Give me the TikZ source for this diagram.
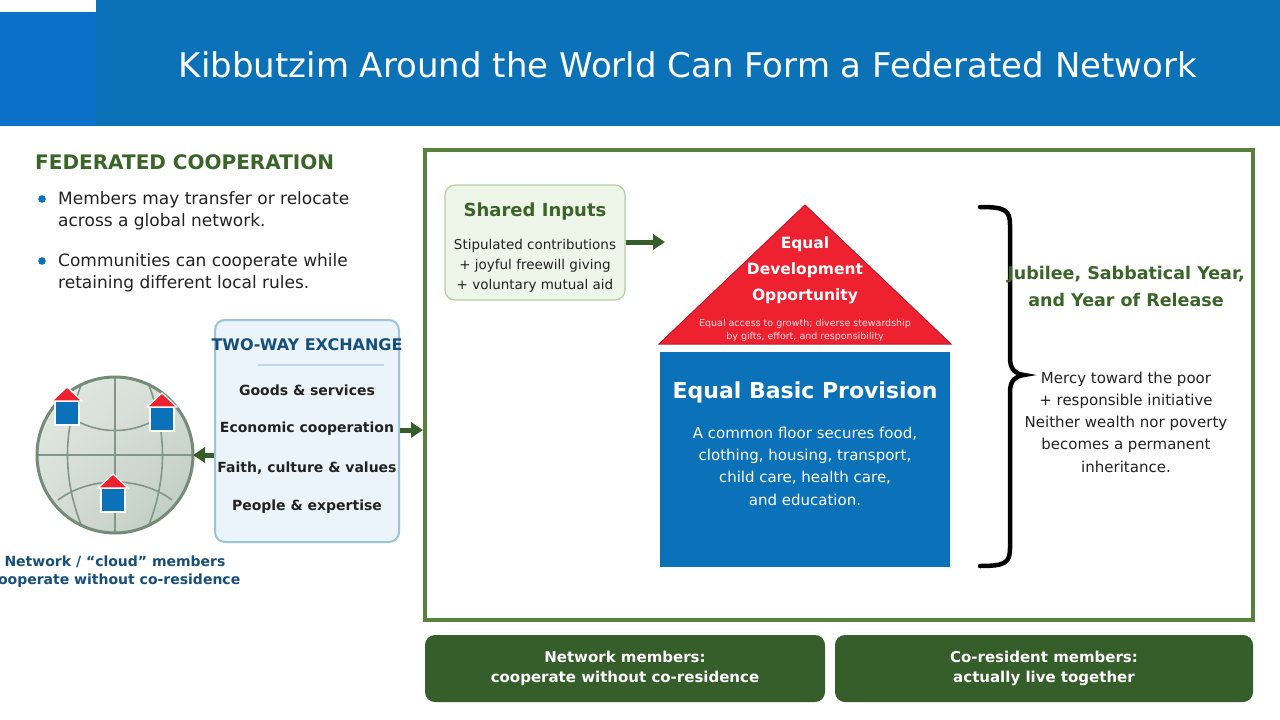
\documentclass[tikz,border=0pt]{standalone}
\usepackage{fontspec}
\setmainfont{DejaVu Sans}
\usetikzlibrary{calc,arrows.meta,shadings}
\definecolor{hdr}{HTML}{0B72B8}
\definecolor{hdrsq}{HTML}{0A70C8}
\definecolor{gr}{HTML}{3A6428}
\definecolor{frame}{HTML}{5A8040}
\definecolor{dgr}{HTML}{365E2A}
\definecolor{navy}{HTML}{174F7A}
\definecolor{txt}{HTML}{222222}
\definecolor{red1}{HTML}{EE2130}
\definecolor{blue1}{HTML}{0B72BA}
\definecolor{globe}{HTML}{748B78}
\definecolor{exbd}{HTML}{9CC3DC}
\definecolor{exfill}{HTML}{EBF4FB}
\definecolor{exsep}{HTML}{BED7E8}
\definecolor{sibd}{HTML}{B5CFA5}
\definecolor{sifill}{HTML}{EEF5E9}
\definecolor{glA}{HTML}{E4EAE5}
\definecolor{glB}{HTML}{BCC9BE}
\newcommand{\fs}[1]{\fontsize{#1}{#1}\selectfont}
\tikzset{
 x=1pt,y=-1pt,
 lbl/.style={inner sep=0pt,align=center},
 bul/.style={inner sep=0pt,anchor=west,text=txt,font=\fs{17}},
 item/.style={lbl,font=\bfseries\fs{14},text=txt},
 arr/.style={draw=dgr,line width=5pt,-{Triangle[length=12pt,width=15pt]}},
 house/.pic={\fill[blue1,draw=white,line width=1.5pt] (-12,-2) rectangle (12,22);
   \fill[red1,draw=white,line width=1.2pt] (-15,-2) -- (0,-16) -- (15,-2) -- cycle;},
}
\begin{document}
\begin{tikzpicture}
\useasboundingbox (0,0) rectangle (1280,720);
\fill[white] (0,0) rectangle (1280,720);
% header
\fill[hdr] (0,0) rectangle (1280,126);
\fill[hdrsq] (0,12) rectangle (96,126);
\fill[white] (0,0) rectangle (96,12);
\node[lbl,text=white,font=\fs{34}] (title) at (688,65) {Kibbutzim Around the World Can Form a Federated Network};
% left text
\node[inner sep=0pt,anchor=west,text=gr,font=\bfseries\fs{20}] (fc) at (35,162) {FEDERATED COOPERATION};
\fill[blue1] (42,199) circle (3.8) (42,261) circle (3.8);
\node[bul] (b1a) at (58,200) {Members may transfer or relocate};
\node[bul] (b1b) at (58,222) {across a global network.};
\node[bul] (b2a) at (58,262) {Communities can cooperate while};
\node[bul] (b2b) at (58,284) {retaining different local rules.};
% globe
\begin{scope}
\clip (115,455) circle (78);
\shade[upper left=glA,lower right=glB,upper right=glA!60!glB,lower left=glA!60!glB] (37,377) rectangle (193,533);
\begin{scope}[draw=globe!90,line width=1.6pt]
\draw (37,455) -- (193,455);
\draw (115,377) -- (115,533);
\draw (84,378) .. controls (62,430) and (62,480) .. (84,532);
\draw (146,378) .. controls (168,430) and (168,480) .. (146,532);
\draw (75,420) .. controls (100,434) and (130,434) .. (155,420);
\draw (58,500) .. controls (90,476) and (140,476) .. (172,500);
\end{scope}
\end{scope}
\draw[globe,line width=3pt] (115,455) circle (78);
\coordinate (glR) at (193,455);
\pic at (67,403) {house};
\pic at (162,409) {house};
\pic at (113,490) {house};
\node[lbl,text=navy,font=\bfseries\fs{14}] (cap1) at (115,562) {Network / “cloud” members};
\node[lbl,text=navy,font=\bfseries\fs{14}] (cap2) at (115,581) {cooperate without co-residence};
% exchange box
\node[draw=exbd,fill=exfill,line width=2pt,rounded corners=10pt,minimum width=184pt,minimum height=222pt,inner sep=0pt] (ex) at (307,431) {};
\node[lbl,text=navy,font=\bfseries\fs{16}] (ext) at (307,345) {TWO-WAY EXCHANGE};
\draw[exsep,line width=1.5pt] (258,365) -- (384,365);
\node[item] (i1) at (307,390) {Goods \& services};
\node[item] (i2) at (307,429) {Economic cooperation};
\node[item] (i3) at (307,468) {Faith, culture \& values};
\node[item] (i4) at (307,507) {People \& expertise};
% main frame
\node[draw=frame,line width=4pt,minimum width=828pt,minimum height=470pt,inner sep=0pt] (mf) at (839,385) {};
\draw[arr] (ex.west |- 0,455) -- (glR);
\draw[arr] (ex.east |- 0,430) -- (mf.west |- 0,430);
% shared inputs
\node[draw=sibd,fill=sifill,line width=1.2pt,rounded corners=10pt,minimum width=180pt,minimum height=115pt,inner sep=0pt] (si) at (535,242.5) {};
\node[lbl,text=gr,font=\bfseries\fs{18}] (sit) at (535,212) {Shared Inputs};
\node[lbl,text=txt,font=\fs{13.5}] at (535,246) {Stipulated contributions};
\node[lbl,text=txt,font=\fs{13.5}] at (535,266) {+ joyful freewill giving};
\node[lbl,text=txt,font=\fs{13.5}] at (535,286) {+ voluntary mutual aid};
% triangle
\coordinate (apex) at (805,205);
\filldraw[fill=red1,draw=red1!80!black,line width=1pt] (apex) -- (951,344) -- (659,344) -- cycle;
\node[lbl,text=white,font=\bfseries\fs{15.5}] (t1) at (805,244) {Equal};
\node[lbl,text=white,font=\bfseries\fs{15.5}] (t2) at (805,270) {Development};
\node[lbl,text=white,font=\bfseries\fs{15.5}] (t3) at (805,296) {Opportunity};
\node[lbl,text=white!85!red1,font=\fs{9.5}] at (805,324) {Equal access to growth; diverse stewardship};
\node[lbl,text=white!85!red1,font=\fs{9.5}] at (805,337) {by gifts, effort, and responsibility};
\coordinate (triL) at (665,242);
\draw[arr] (si.east |- 0,242) -- (triL);
% blue
\fill[blue1] (660,352) rectangle (950,567);
\node[lbl,text=white,font=\bfseries\fs{22}] (bp) at (805,392) {Equal Basic Provision};
\node[lbl,text=white,font=\fs{15}] at (805,434) {A common floor secures food,};
\node[lbl,text=white,font=\fs{15}] at (805,456) {clothing, housing, transport,};
\node[lbl,text=white,font=\fs{15}] at (805,478) {child care, health care,};
\node[lbl,text=white,font=\fs{15}] at (805,500) {and education.};
% brace
\draw[line width=4.5pt,line cap=round] (980,207) .. controls (1005,207) and (1010,210) .. (1010,225) -- (1010,358) .. controls (1010,370) and (1016,374) .. (1024,375) .. controls (1016,376) and (1010,380) .. (1010,392) -- (1010,548) .. controls (1010,563) and (1005,566) .. (980,566);
\node[lbl,text=gr,font=\bfseries\fs{17.5}] (j1) at (1126,275) {Jubilee, Sabbatical Year,};
\node[lbl,text=gr,font=\bfseries\fs{17.5}] (j2) at (1126,300) {and Year of Release};
\foreach \t/\yy in {Mercy toward the poor/379,+ responsible initiative/401,Neither wealth nor poverty/423,becomes a permanent/445,inheritance./467}
  \node[lbl,text=txt,font=\fs{15}] at (1126,\yy) {\t};
% bottom
\node[fill=dgr,rounded corners=10pt,minimum width=400pt,minimum height=67pt,inner sep=0pt,align=center,text=white,font=\bfseries\fs{15}] (n1) at (625,668.5) {Network members:\\[5pt]cooperate without co-residence};
\node[fill=dgr,rounded corners=10pt,minimum width=418pt,minimum height=67pt,inner sep=0pt,align=center,text=white,font=\bfseries\fs{15}] (n2) at (1044,668.5) {Co-resident members:\\[5pt]actually live together};
\end{tikzpicture}
\end{document}
